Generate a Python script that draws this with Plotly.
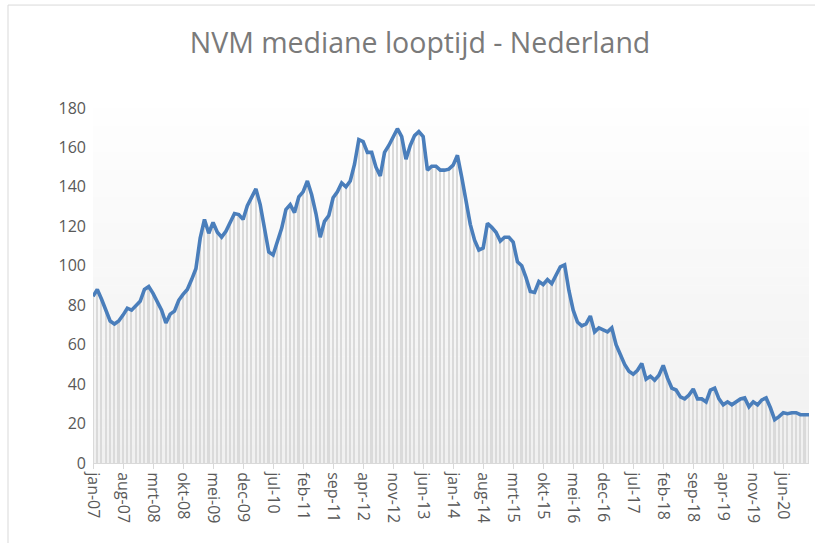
import plotly.graph_objects as go

month_abbr = ["jan", "feb", "mrt", "apr", "mei", "jun", "jul", "aug", "sep", "okt", "nov", "dec"]
years = ["07", "08", "09", "10", "11", "12", "13", "14", "15", "16", "17", "18", "19", "20"]
months = [f"{m}-{y}" for y in years for m in month_abbr]

looptijd = [
    84.5, 88, 83, 77, 72, 70.5, 72, 75, 78.5, 77.5, 80, 82,
    88, 89.5, 86, 82, 77.5, 71, 75.5, 77, 82.5, 85.5, 88, 93,
    98.5, 114, 123.5, 116.5, 122, 117, 114.5, 117.5, 122.5, 126.5, 126, 123.5,
    130.5, 134.5, 139, 131, 120, 107, 105.5, 112, 119, 128.5, 131, 127,
    135, 137.5, 143, 136, 126.5, 114.5, 122.5, 125.5, 134.5, 137.5, 142, 140,
    143, 151.5, 164, 163, 157.5, 157.5, 150, 145.5, 157.5, 161, 165, 169.5,
    165.5, 154, 161, 166, 168, 165.5, 148.5, 150.5, 150.5, 148.5, 148.5, 149,
    151, 156, 145, 132, 121, 113, 108, 109, 121.5, 119.5, 117, 112.5,
    114.5, 114.5, 112, 102, 100, 94, 87, 86.5, 92, 90.5, 93, 91,
    95, 99.5, 100.5, 87.5, 77.5, 71.5, 69.5, 70.5, 74.5, 66.5, 68.5, 67.5,
    66.5, 68.5, 60, 55, 50, 46.5, 45, 47, 50.5, 42.5, 44, 42,
    44.5, 49.5, 43, 38, 37, 33.5, 32.5, 34.5, 37.5, 32.5, 32.5, 31,
    37, 38, 32.5, 29.5, 31, 29.5, 31, 32.5, 33, 28.5, 31, 29.5,
    32, 33, 28, 22, 23.5, 25.5, 25, 25.5, 25.5, 24.5, 24.5, 24.5,
]

tick_labels = ["jan-07", "aug-07", "mrt-08", "okt-08", "mei-09", "dec-09", "jul-10", "feb-11",
               "sep-11", "apr-12", "nov-12", "jun-13", "jan-14", "aug-14", "mrt-15", "okt-15",
               "mei-16", "dec-16", "jul-17", "feb-18", "sep-18", "apr-19", "nov-19", "jun-20"]
y_ticks = [0, 20, 40, 60, 80, 100, 120, 140, 160, 180]

title_text = "NVM mediane looptijd - Nederland"

fig = go.Figure()

# drop lines (thin bars)
fig.add_trace(go.Bar(x=months, y=looptijd, width=0.38, marker=dict(color="#dadada", line=dict(width=0)),
                     hoverinfo="skip", showlegend=False))
fig.add_trace(go.Scatter(x=months, y=looptijd, mode="lines",
                         line=dict(color="#4a7ebb", width=3.6), showlegend=False))

# gradient plot background
shapes = []
n = 40
for k in range(n):
    t = k / (n - 1)
    c = int(round(254 - 14 * t))
    shapes.append(dict(type="rect", xref="paper", yref="paper", x0=0, x1=1,
                       y0=1 - (k + 1) / n, y1=1 - k / n + 0.001,
                       fillcolor=f"rgb({c},{c},{c})", line=dict(width=0), layer="below"))
# outer frame
shapes.append(dict(type="rect", xref="paper", yref="paper", x0=-0.1187, x1=1.2, y0=-0.5, y1=1.29,
                   line=dict(color="#d9d9d9", width=1), fillcolor="rgba(0,0,0,0)", layer="above"))

fig.update_layout(
    width=815, height=543,
    margin=dict(l=93, r=6, t=108, b=80),
    paper_bgcolor="white", plot_bgcolor="rgba(0,0,0,0)",
    bargap=0,
    shapes=shapes,
    title=dict(text=title_text, x=420 / 815, xref="container", xanchor="center",
               y=1 - 43 / 543, yref="container", yanchor="middle",
               font=dict(family="Open Sans", size=28.5, color="#7a7a7a")),
    font=dict(family="Open Sans", color="#595959"),
    xaxis=dict(type="category", range=[0, len(months) - 1], tickmode="array",
               tickvals=tick_labels, ticktext=tick_labels, tickangle=90,
               tickfont=dict(size=16, color="#595959"),
               showline=True, linecolor="#d9d9d9", linewidth=1,
               ticks="outside", ticklen=5, tickcolor="#d9d9d9",
               showgrid=False, zeroline=False, fixedrange=True),
    yaxis=dict(range=[0, 180], tickvals=y_ticks, showgrid=False, zeroline=False,
               showline=False, ticks="", tickfont=dict(size=16, color="#595959"),
               ticklabelstandoff=6),
)

fig.write_html("out.html", config={"displayModeBar": False},
               post_script="document.body.style.margin='0';")
